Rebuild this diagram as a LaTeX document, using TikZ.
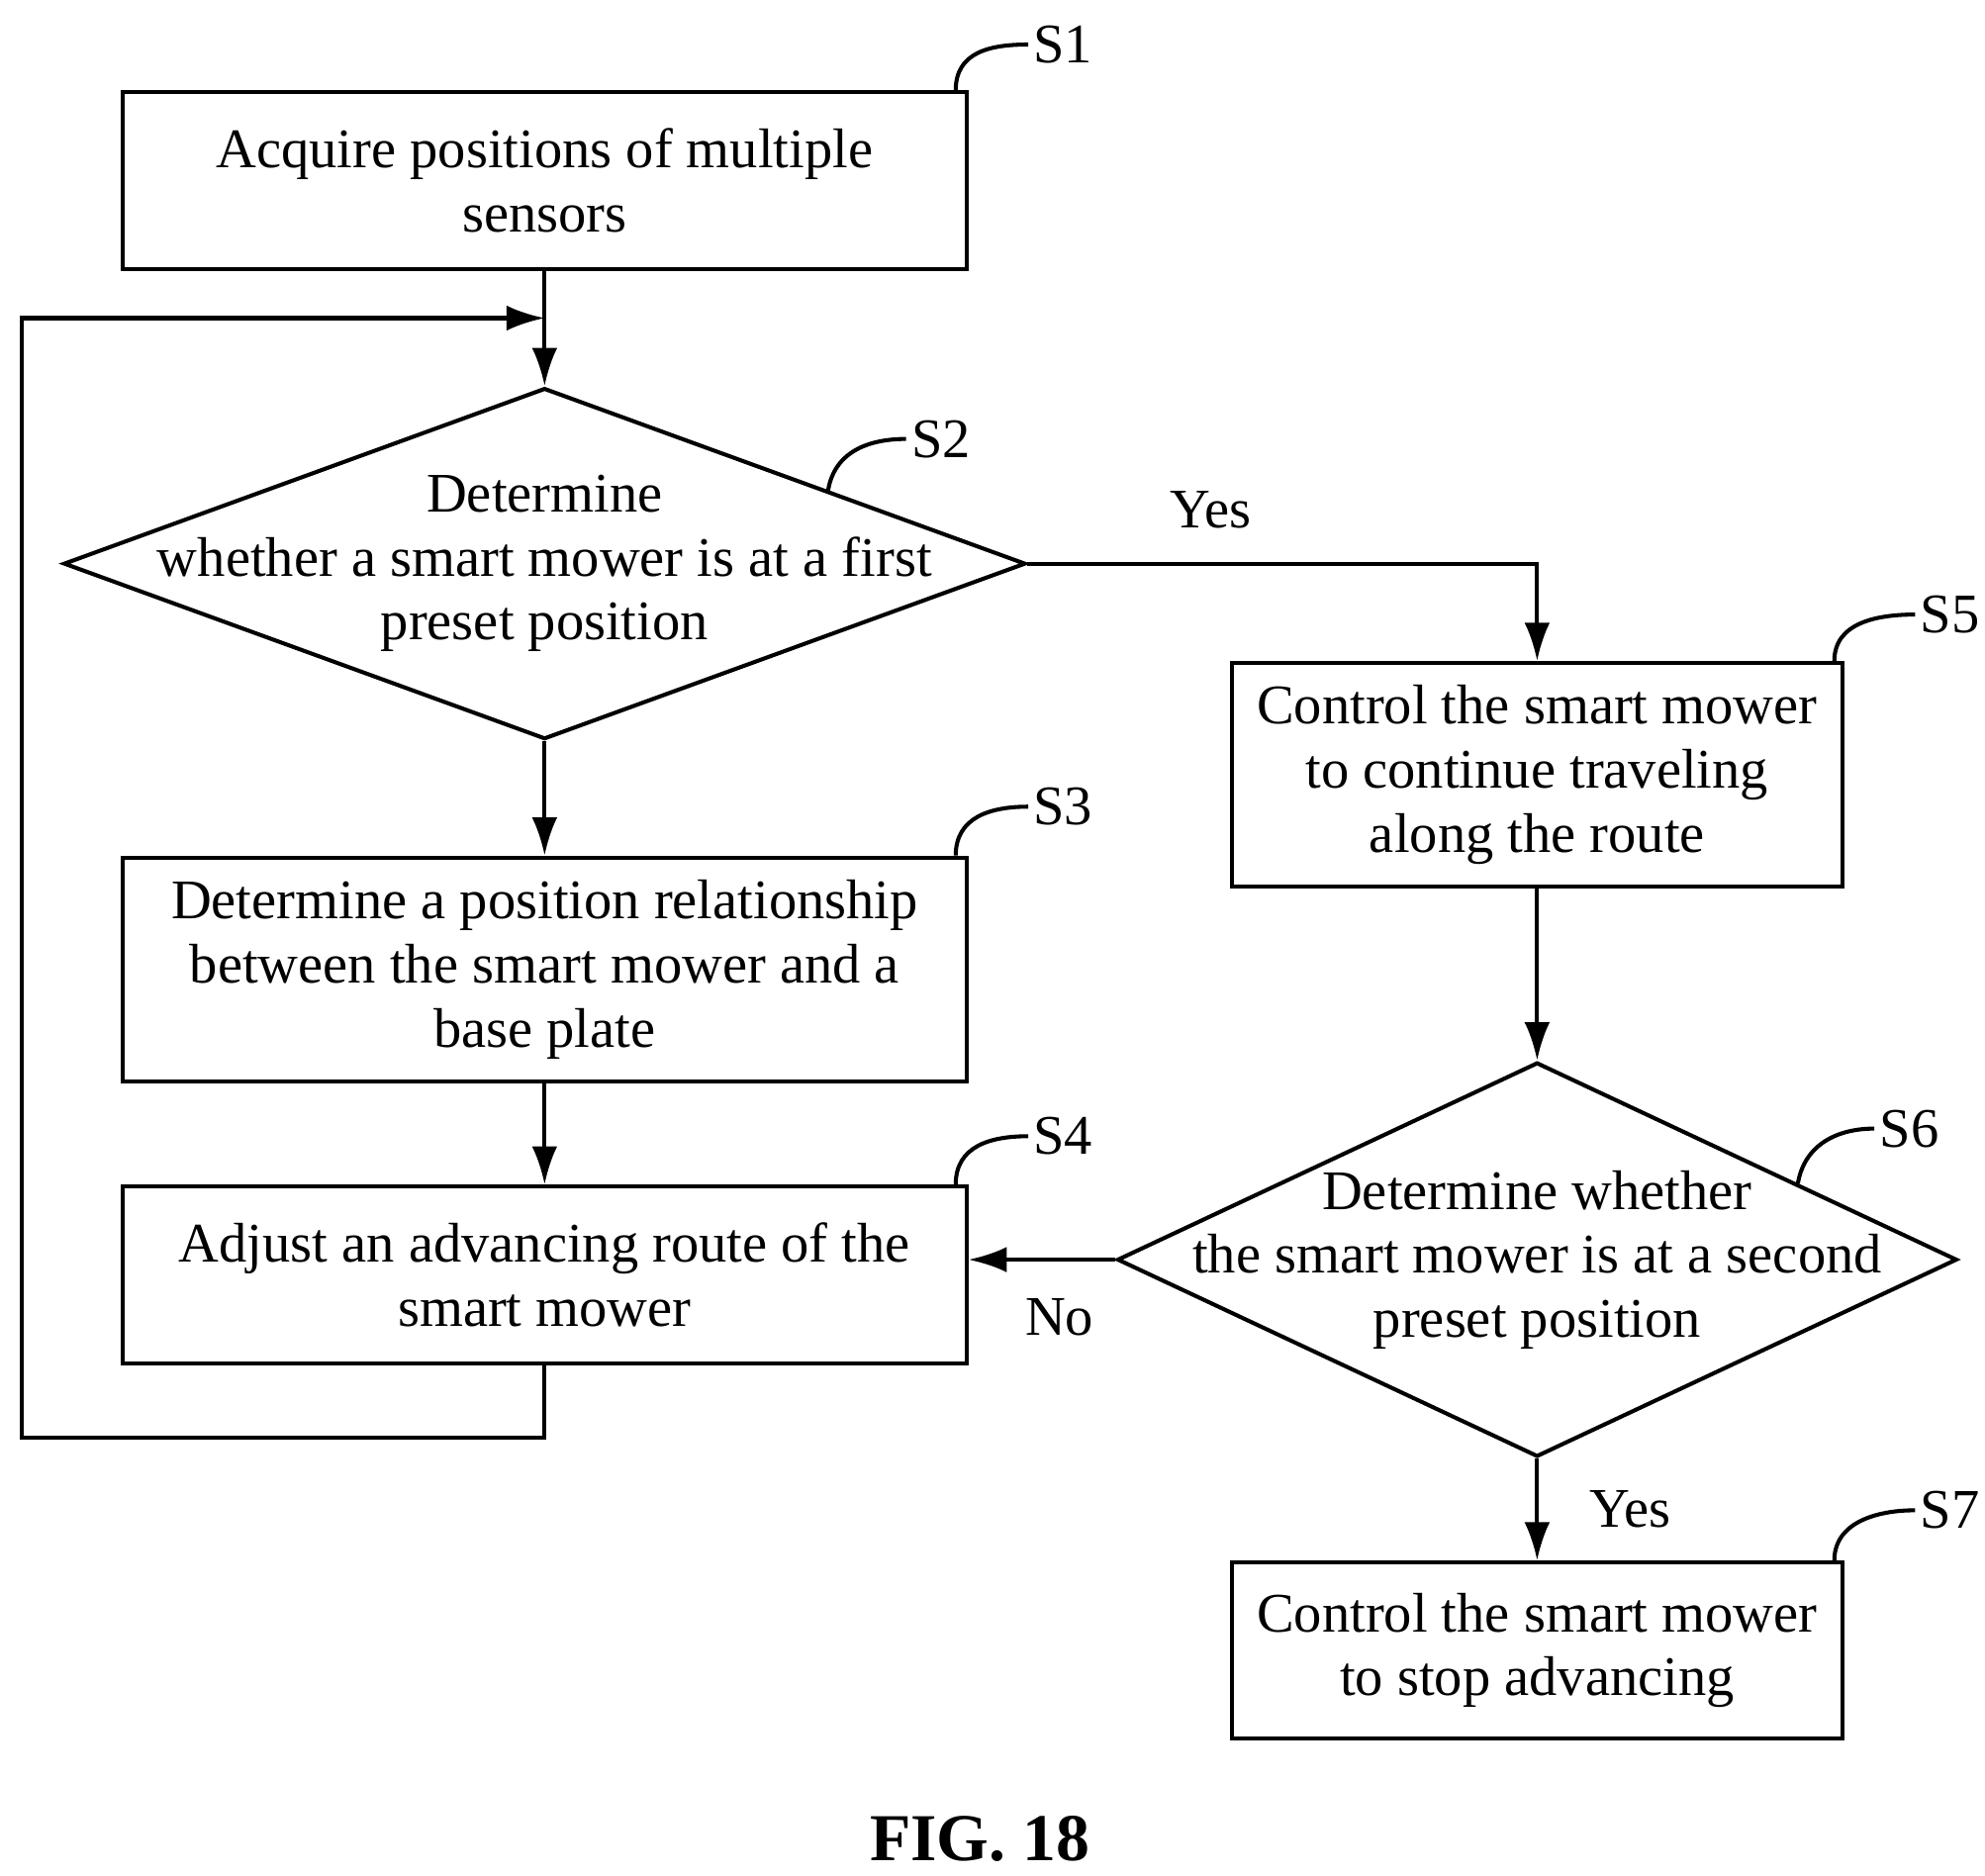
\documentclass[tikz,border=0pt]{standalone}
\usepackage{fontspec}
\setmainfont{Liberation Serif}
\usepackage{tikz}
\usetikzlibrary{shapes.geometric, arrows.meta, calc}
\tikzstyle{process} = [rectangle, draw=black, line width=0.9pt, align=center, inner sep=2pt]
\tikzstyle{decision} = [diamond, draw=black, line width=0.9pt, inner sep=0pt]
\tikzstyle{txt} = [align=center, font=\fontsize{12.5}{14.3}\selectfont]
\tikzstyle{arrow} = [line width=0.9pt, -{Latex[length=3mm,width=2mm]}]
\tikzstyle{line} = [line width=0.9pt]
\tikzstyle{steptag} = [font=\fontsize{12.5}{14.3}\selectfont, anchor=west, inner sep=1pt]

\begin{document}
\begin{tikzpicture}
        \useasboundingbox (0,0) rectangle (15.6,14.74);
        % Boxes and decisions
        \node (s1) [process, txt, minimum width=6.63cm, minimum height=1.39cm] at (4.28,13.32) {Acquire positions of multiple\\sensors};
        \node (d2) [decision, minimum width=7.56cm, minimum height=2.76cm] at (4.28,10.31) {};
        \node (d2t) [txt] at (d2.center) {Determine\\whether a smart mower is at a first\\preset position};
        \node (s3) [process, txt, minimum width=6.63cm, minimum height=1.76cm] at (4.28,7.12) {Determine a position relationship\\between the smart mower and a\\base plate};
        \node (s4) [process, txt, minimum width=6.63cm, minimum height=1.39cm] at (4.28,4.72) {Adjust an advancing route of the\\smart mower};
        \node (s5) [process, txt, minimum width=4.80cm, minimum height=1.76cm] at (12.08,8.65) {Control the smart mower\\to continue traveling\\along the route};
        \node (d6) [decision, minimum width=6.60cm, minimum height=3.10cm] at (12.08,4.84) {};
        \node (d6t) [txt] at (d6.center) {Determine whether\\the smart mower is at a second\\preset position};
        \node (s7) [process, txt, minimum width=4.80cm, minimum height=1.38cm] at (12.08,1.77) {Control the smart mower\\to stop advancing};
        \coordinate (j) at (4.28,12.24);
        \coordinate (lpb) at (0.17,3.44);
        % Connectors
        \draw [arrow] (s1) -- (d2);
        \draw [arrow] (d2) -- (s3);
        \draw [arrow] (s3) -- (s4);
        \draw [arrow] (s4.south) |- (lpb) |- (j);
        \draw [arrow] (d2.east) -| node[txt, pos=0.18, above=4pt] {Yes} (s5.north);
        \draw [arrow] (s5) -- (d6);
        \draw [arrow] (d6.west) -- node[txt, pos=0.38, below=5pt] {No} (d6.west -| s4.east);
        \draw [arrow] (d6) -- node[txt, right=8pt] {Yes} (s7);
        % Step tags
        \node (t1) [steptag] at (8.08,14.39) {S1};
        \node (t2) [steptag] at (7.12,11.29) {S2};
        \node (t3) [steptag] at (8.08,8.40) {S3};
        \node (t4) [steptag] at (8.08,5.81) {S4};
        \node (t5) [steptag] at (15.05,9.91) {S5};
        \node (t6) [steptag] at (14.73,5.87) {S6};
        \node (t7) [steptag] at (15.05,2.87) {S7};
        \coordinate (c2) at ($(d2.north)!0.587!(d2.east)$);
        \coordinate (c6) at ($(d6.north)!0.618!(d6.east)$);
        \draw [line] ($(s1.north east)+(-0.1,0)$) .. controls +(0,0.3) and +(-0.3,0) .. (t1.west);
        \draw [line] (c2) .. controls +(0.05,0.3) and +(-0.3,0) .. (t2.west);
        \draw [line] ($(s3.north east)+(-0.1,0)$) .. controls +(0,0.3) and +(-0.3,0) .. (t3.west);
        \draw [line] ($(s4.north east)+(-0.1,0)$) .. controls +(0,0.3) and +(-0.3,0) .. (t4.west);
        \draw [line] ($(s5.north east)+(-0.08,0)$) .. controls +(0,0.3) and +(-0.3,0) .. (t5.west);
        \draw [line] (c6) .. controls +(0.05,0.3) and +(-0.3,0) .. (t6.west);
        \draw [line] ($(s7.north east)+(-0.08,0)$) .. controls +(0,0.3) and +(-0.3,0) .. (t7.west);
        \node (fig) [font=\fontsize{15}{17}\selectfont\bfseries] at (7.70,0.29) {FIG. 18};
\end{tikzpicture}
\end{document}
